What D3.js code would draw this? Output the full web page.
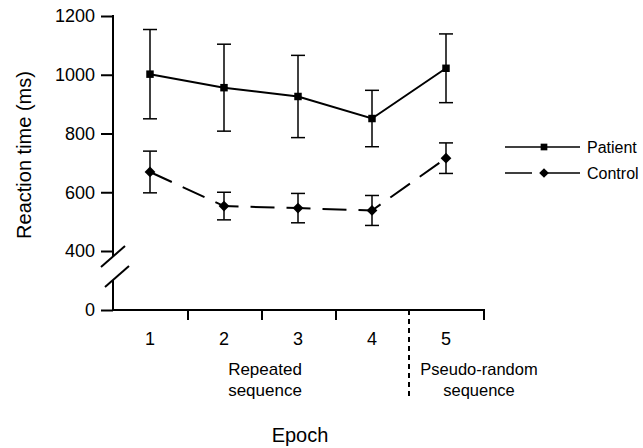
<!DOCTYPE html>
<html>
<head>
<meta charset="utf-8">
<style>
  body { margin: 0; background: #fff; }
  svg { font-family: "Liberation Sans", Arial, sans-serif; }
</style>
<script src="https://cdn.jsdelivr.net/npm/d3@7"></script>
</head>
<body>
<svg id="chart" width="643" height="448"></svg>
<script>
  // values
  const epochs = [1, 2, 3, 4, 5]
  const patientMean = [1002, 956, 926, 851, 1022]
  const patientErr = [152, 148, 140, 96, 117]
  const controlMean = [669, 553, 546, 538, 716]
  const controlErr = [71, 47, 50, 51, 52]
  const yTicks = [0, 400, 600, 800, 1000, 1200]

  const svg = d3.select('#chart')
  // broken axis: 0 sits below the 400..1200 section
  const y = d3.scaleLinear().domain([0, 400, 1200]).range([310, 251, 16])
  const x = d3.scaleBand().domain(epochs).range([113, 483])
  const cx = d => x(d) + x.bandwidth() / 2

  // y axis
  const yAxis = svg.append('g').attr('transform', 'translate(113,0)')
    .call(d3.axisLeft(y).tickValues(yTicks).tickFormat(d3.format('d')).tickSize(12).tickPadding(6))
  yAxis.attr('font-family', null).attr('font-size', null)
  yAxis.select('.domain').remove()
  yAxis.selectAll('line').attr('stroke-width', 2)
  yAxis.selectAll('text').attr('font-size', 18).attr('fill', '#000')
  svg.append('line').attr('x1', 113).attr('x2', 113).attr('y1', y(1200) - 1).attr('y2', 256)
    .attr('stroke', '#000').attr('stroke-width', 2)
  svg.append('line').attr('x1', 113).attr('x2', 113).attr('y1', 280).attr('y2', y(0))
    .attr('stroke', '#000').attr('stroke-width', 2)
  // break marks
  ;[[101, 267, 125, 246], [105, 287, 129, 266]].forEach(s => {
    svg.append('line').attr('x1', s[0]).attr('y1', s[1]).attr('x2', s[2]).attr('y2', s[3])
      .attr('stroke', '#000').attr('stroke-width', 2)
  })

  // x axis
  svg.append('line').attr('x1', 112).attr('x2', 485).attr('y1', y(0)).attr('y2', y(0))
    .attr('stroke', '#000').attr('stroke-width', 2)
  const edges = epochs.map(d => x(d) + x.bandwidth())
  svg.selectAll('.xtick').data(edges.filter((d, i) => i !== 3)).join('line')
    .attr('x1', d => d + 1).attr('x2', d => d + 1).attr('y1', y(0)).attr('y2', y(0) + 10)
    .attr('stroke', '#000').attr('stroke-width', 2)
  svg.append('line').attr('x1', edges[3]).attr('x2', edges[3]).attr('y1', y(0)).attr('y2', 397)
    .attr('stroke', '#000').attr('stroke-width', 2).attr('stroke-dasharray', '5,4')
  svg.selectAll('.xlab').data(epochs).join('text')
    .attr('x', cx).attr('y', 345).attr('text-anchor', 'middle').attr('font-size', 18).text(d => d)

  svg.append('text').attr('text-anchor', 'middle').attr('font-size', 17)
    .selectAll('tspan').data(['Repeated', 'sequence']).join('tspan')
    .attr('x', 265).attr('y', (d, i) => 375 + i * 21).text(d => d)
  svg.append('text').attr('text-anchor', 'middle').attr('font-size', 16.5)
    .selectAll('tspan').data(['Pseudo-random', 'sequence']).join('tspan')
    .attr('x', 479).attr('y', (d, i) => 375 + i * 21).text(d => d)

  svg.append('text').attr('x', 300).attr('y', 442).attr('text-anchor', 'middle')
    .attr('font-size', 20).text('Epoch')
  svg.append('text').attr('transform', 'translate(31,155) rotate(-90)')
    .attr('text-anchor', 'middle').attr('font-size', 20).text('Reaction time (ms)')

  // the control marker is a square turned 45 degrees
  const series = [
    { name: 'Patient', mean: patientMean, err: patientErr, dash: null, rot: 0, size: 56 },
    { name: 'Control', mean: controlMean, err: controlErr, dash: '24,12', rot: 45, size: 58 }
  ]
  const line = d3.line().x(d => cx(d.e)).y(d => y(d.v))

  series.forEach(s => {
    const pts = epochs.map((e, i) => ({ e, v: s.mean[i], sd: s.err[i] }))
    const g = svg.append('g')
    g.append('path').datum(pts).attr('d', line).attr('fill', 'none')
      .attr('stroke', '#000').attr('stroke-width', 2).attr('stroke-dasharray', s.dash)
    const eb = g.selectAll('.eb').data(pts).join('g')
    eb.append('line').attr('x1', d => cx(d.e)).attr('x2', d => cx(d.e))
      .attr('y1', d => y(d.v + d.sd)).attr('y2', d => y(d.v - d.sd))
      .attr('stroke', '#000').attr('stroke-width', 1.5)
    ;[1, -1].forEach(k => {
      eb.append('line').attr('x1', d => cx(d.e) - 7).attr('x2', d => cx(d.e) + 7)
        .attr('y1', d => y(d.v + k * d.sd)).attr('y2', d => y(d.v + k * d.sd))
        .attr('stroke', '#000').attr('stroke-width', 1.5)
    })
    g.selectAll('.mk').data(pts).join('path')
      .attr('transform', d => `translate(${cx(d.e)},${y(d.v)}) rotate(${s.rot})`)
      .attr('d', d3.symbol().type(d3.symbolSquare).size(s.size)).attr('fill', '#000')
  })

  // legend
  const leg = svg.append('g')
  series.forEach((s, i) => {
    const ly = 147 + i * 26
    leg.append('line').attr('x1', 505).attr('x2', 580).attr('y1', ly).attr('y2', ly)
      .attr('stroke', '#000').attr('stroke-width', 1.5)
      .attr('stroke-dasharray', s.dash ? '27,10,40' : null)
    leg.append('path').attr('transform', `translate(544,${ly}) rotate(${s.rot})`)
      .attr('d', d3.symbol().type(d3.symbolSquare).size(s.size * 0.8)).attr('fill', '#000')
    leg.append('text').attr('x', 587).attr('y', ly + 6).attr('font-size', 16).text(s.name)
  })
</script>
</body>
</html>
